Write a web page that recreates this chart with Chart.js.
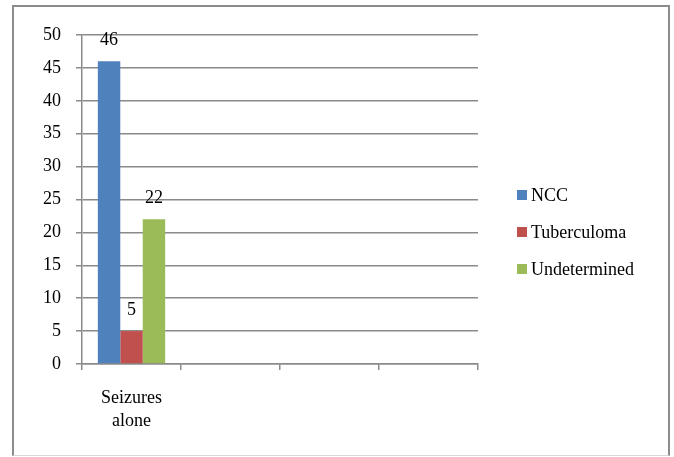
<!DOCTYPE html>
<html>
<head>
<meta charset="utf-8">
<script src="https://cdn.jsdelivr.net/npm/chart.js@4/dist/chart.umd.min.js"></script>
<style>
  html, body { margin: 0; padding: 0; background: #fff; }
  #wrap { position: relative; width: 674px; height: 457px; overflow: hidden; }
  #frame { position: absolute; left: 12px; top: 5px; width: 654px; height: 448px;
           border: 2px solid #8c8c8c; border-bottom: 1px solid #d8d8d8; box-sizing: content-box; }
  #c { position: absolute; left: 0; top: 0; }
</style>
</head>
<body>
<div id="wrap">
  <div id="frame"></div>
  <canvas id="c" width="674" height="457"></canvas>
</div>
<script>
const categories = [['Seizures', 'alone'], '', '', ''];
const seriesNames = ['NCC', 'Tuberculoma', 'Undetermined'];
const nccValues = [46, null, null, null];
const tuberculomaValues = [5, null, null, null];
const undeterminedValues = [22, null, null, null];
const yTicks = [0, 5, 10, 15, 20, 25, 30, 35, 40, 45, 50];

const colors = ['#4F81BD', '#C0504D', '#9BBB59'];
const FONT = '"Liberation Serif", "Times New Roman", serif';
const GRID = '#8a8a8a';

const dataLabels = {
  id: 'dataLabels',
  afterDatasetsDraw(chart) {
    const ctx = chart.ctx;
    ctx.save();
    ctx.font = '18px ' + FONT;
    ctx.fillStyle = '#000';
    ctx.textAlign = 'center';
    ctx.textBaseline = 'middle';
    chart.data.datasets.forEach((ds, i) => {
      chart.getDatasetMeta(i).data.forEach((bar, j) => {
        const v = ds.data[j];
        if (v === null || v === undefined) return;
        ctx.fillText(String(v), bar.x, bar.y - 21);
      });
    });
    ctx.restore();
  }
};

const sideLegend = {
  id: 'sideLegend',
  afterDraw(chart) {
    const ctx = chart.ctx;
    const a = chart.chartArea;
    ctx.save();
    ctx.font = '18px ' + FONT;
    ctx.textBaseline = 'middle';
    ctx.textAlign = 'left';
    const x0 = a.right + 39;
    const yMid = 232;
    chart.data.datasets.forEach((ds, i) => {
      const y = yMid + (i - 1) * 37;
      ctx.fillStyle = ds.backgroundColor;
      ctx.fillRect(x0, y - 5, 10, 10);
      ctx.fillStyle = '#000';
      ctx.fillText(ds.label, x0 + 14, y + 1);
    });
    ctx.restore();
  }
};

new Chart(document.getElementById('c'), {
  type: 'bar',
  data: {
    labels: categories,
    datasets: [
      { label: seriesNames[0], data: nccValues, backgroundColor: colors[0] },
      { label: seriesNames[1], data: tuberculomaValues, backgroundColor: colors[1] },
      { label: seriesNames[2], data: undeterminedValues, backgroundColor: colors[2] }
    ]
  },
  options: {
    responsive: false,
    animation: false,
    devicePixelRatio: 1,
    layout: { padding: { top: 35, right: 196, left: 0, bottom: 0 } },
    datasets: { bar: { categoryPercentage: 0.68, barPercentage: 1.0 } },
    plugins: { legend: { display: false }, tooltip: { enabled: false } },
    scales: {
      x: {
        offset: true,
        grid: { display: true, drawOnChartArea: false, drawTicks: true, tickLength: 6, color: GRID, lineWidth: 1.5, offset: true },
        border: { display: true, color: GRID, width: 1.5 },
        ticks: { color: '#000', font: { family: FONT, size: 18, lineHeight: 1.28 }, padding: 17, maxRotation: 0, autoSkip: false },
        afterFit(s) { s.height = 93; }
      },
      y: {
        min: 0, max: 50,
        afterBuildTicks(s) { s.ticks = yTicks.map(v => ({ value: v })); },
        grid: { color: GRID, lineWidth: 1.5, tickLength: 6, drawTicks: true },
        border: { display: true, color: GRID, width: 1.5 },
        ticks: { color: '#000', font: { family: FONT, size: 18 }, padding: 15 },
        afterFit(s) { s.width = 82; }
      }
    }
  },
  plugins: [dataLabels, sideLegend]
});
</script>
</body>
</html>
